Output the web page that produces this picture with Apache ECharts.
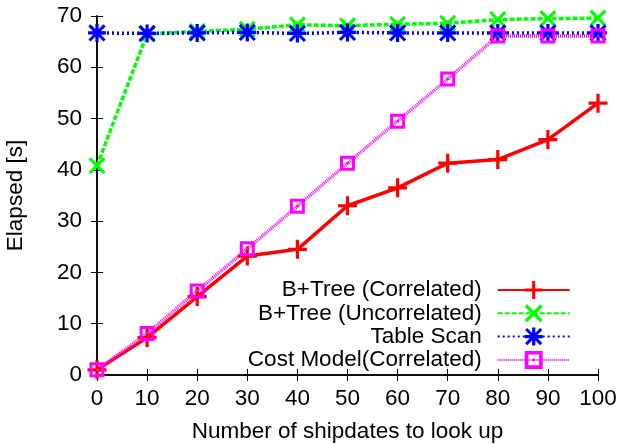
<!DOCTYPE html>
<html>
<head>
<meta charset="utf-8">
<script src="https://cdn.jsdelivr.net/npm/echarts@6/dist/echarts.min.js"></script>
<style>
  html, body { margin: 0; padding: 0; background: #fff; }
  #chart { width: 621px; height: 444px; }
</style>
</head>
<body>
<div id="chart"></div>
<script>
var shipdates = [0, 10, 20, 30, 40, 50, 60, 70, 80, 90, 100];
var btreeCorrelated = [1.0, 7.3, 15.3, 23.2, 24.5, 33.0, 36.5, 41.3, 42.0, 45.9, 53.0];
var btreeUncorrelated = [40.8, 66.5, 67.0, 67.4, 68.3, 68.1, 68.4, 68.6, 69.3, 69.5, 69.6];
var tableScan = [66.7, 66.6, 66.7, 66.8, 66.6, 66.8, 66.7, 66.7, 66.7, 66.7, 66.7];
var costModel = [1.0, 8.1, 16.4, 24.6, 32.9, 41.3, 49.5, 57.7, 66.1, 66.1, 66.1];
var seriesNames = ['B+Tree (Correlated)', 'B+Tree (Uncorrelated)', 'Table Scan', 'Cost Model(Correlated)'];

var FONT = 'Liberation Sans';
var FS = 22.5;
var plusPath = 'path://M8.3,0L11.7,0L11.7,8.3L20,8.3L20,11.7L11.7,11.7L11.7,20L8.3,20L8.3,11.7L0,11.7L0,8.3L8.3,8.3Z';
var crossPath = 'path://M2.6,0L10,7.4L17.4,0L20,2.6L12.6,10L20,17.4L17.4,20L10,12.6L2.6,20L0,17.4L7.4,10L0,2.6Z';
var starPath = 'path://M8.2,0L11.8,0L11.8,8.2L20,8.2L20,11.8L11.8,11.8L11.8,20L8.2,20L8.2,11.8L0,11.8L0,8.2L8.2,8.2Z' +
    'M2.8,0.4L10,7.6L17.2,0.4L19.6,2.8L12.4,10L19.6,17.2L17.2,19.6L10,12.4L2.8,19.6L0.4,17.2L7.6,10L0.4,2.8Z';
var squarePath = 'path://M0,0L20,0L20,20L0,20ZM4,4L4,16L16,16L16,4ZM8.4,8.4L11.6,8.4L11.6,11.6L8.4,11.6Z';

function pairs(ys) {
    return shipdates.map(function (x, i) { return [x, ys[i]]; });
}

function mkSeries(name, ys, color, lineType, width, symbol, size) {
    return {
        name: name,
        type: 'line',
        data: pairs(ys),
        symbol: symbol,
        symbolSize: size,
        showAllSymbol: true,
        clip: false,
        lineStyle: { color: color, width: width, type: lineType },
        itemStyle: { color: color },
        emphasis: { disabled: true },
        animation: false
    };
}

var chart = echarts.init(document.getElementById('chart'), null, { renderer: 'canvas' });

var axisText = { color: '#000', fontFamily: FONT, fontSize: FS };

var option = {
    backgroundColor: '#fff',
    animation: false,
    grid: { left: 97, right: 23, top: 16, bottom: 69, containLabel: false, outerBoundsMode: 'none' },
    legend: {
        orient: 'vertical',
        align: 'right',
        right: 50.3,
        top: 278.5,
        padding: 0,
        itemWidth: 72,
        itemHeight: 22.5,
        itemGap: 0.3,
        data: seriesNames,
        textStyle: { color: '#000', fontFamily: FONT, fontSize: FS, lineHeight: 22.5, padding: [0, 11, 0, 0] }
    },
    xAxis: [{
        type: 'value',
        min: 0, max: 100, interval: 10,
        name: 'Number of shipdates to look up',
        nameLocation: 'middle',
        nameGap: 45,
        nameTextStyle: axisText,
        axisLine: { lineStyle: { color: '#000', width: 1.5 } },
        axisTick: { inside: true, length: 6, lineStyle: { color: '#000' } },
        axisLabel: { color: '#000', fontFamily: FONT, fontSize: FS, margin: 12 },
        splitLine: { show: false }
    }, {
        type: 'value', position: 'top',
        min: 0, max: 100, interval: 10,
        axisLine: { lineStyle: { color: '#000', width: 1.5 } },
        axisTick: { inside: true, length: 6, lineStyle: { color: '#000' } },
        axisLabel: { show: false },
        splitLine: { show: false }
    }],
    yAxis: [{
        type: 'value',
        min: 0, max: 70, interval: 10,
        name: 'Elapsed [s]',
        nameLocation: 'middle',
        nameGap: 70,
        nameTextStyle: axisText,
        axisLine: { show: true, lineStyle: { color: '#000', width: 1.5 } },
        axisTick: { show: true, inside: true, length: 6, lineStyle: { color: '#000' } },
        axisLabel: { color: '#000', fontFamily: FONT, fontSize: FS, margin: 15 },
        splitLine: { show: false }
    }, {
        type: 'value', position: 'right',
        min: 0, max: 70, interval: 10,
        axisLine: { show: true, lineStyle: { color: '#000', width: 1.5 } },
        axisTick: { show: true, inside: true, length: 6, lineStyle: { color: '#000' } },
        axisLabel: { show: false },
        splitLine: { show: false }
    }],
    series: [
        mkSeries(seriesNames[0], btreeCorrelated, '#ff0000', 'solid', 3.5, plusPath, 19),
        mkSeries(seriesNames[1], btreeUncorrelated, '#00ff00', [5, 2], 3.5, crossPath, 17),
        mkSeries(seriesNames[2], tableScan, '#0000ff', [2, 3], 3.5, starPath, 18),
        mkSeries(seriesNames[3], costModel, '#ff00ff', [1, 1], 3.5, squarePath, 15)
    ]
};

chart.setOption(option);
</script>
</body>
</html>
